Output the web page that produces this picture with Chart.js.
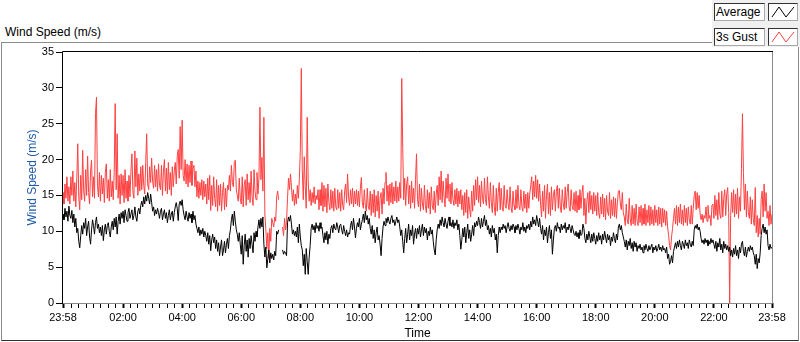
<!DOCTYPE html>
<html>
<head>
<meta charset="utf-8">
<script src="https://cdn.jsdelivr.net/npm/chart.js@4.4.1/dist/chart.umd.min.js"></script>
<style>
  html, body { margin: 0; padding: 0; background: #fff; }
  body { width: 800px; height: 342px; position: relative; overflow: hidden; font-family: "Liberation Sans", Arial, sans-serif; }
  #frame { position: absolute; left: 1px; top: 42px; width: 796px; height: 297px; border: 1px solid #8c8c8c; border-bottom-color: #333; }
  #title { position: absolute; left: 5px; top: 25px; font-size: 12px; color: #000; }
  #legend { position: absolute; left: 712px; top: 0; width: 88px; height: 47px; background: #f0f0f0; }
  .lbl, .ico { position: absolute; height: 16px; background: #fff; border: 1px solid #333; border-right-color: #aaa; border-bottom-color: #aaa; }
  .lbl { left: 2px; width: 48px; font-size: 12px; line-height: 16px; padding-left: 1px; box-sizing: content-box; }
  .ico { left: 56px; width: 28px; }
  canvas { position: absolute; left: 0; top: 0; }
</style>
</head>
<body>
<div id="frame"></div>
<div id="title">Wind Speed (m/s)</div>
<div id="legend">
  <div class="lbl" style="top:3px">Average</div>
  <div class="ico" style="top:3px"><svg width="28" height="16"><polyline points="3,13 10,3 17,13 25,3" fill="none" stroke="#000" stroke-width="1"/></svg></div>
  <div class="lbl" style="top:28px">3s Gust</div>
  <div class="ico" style="top:28px"><svg width="28" height="16"><polyline points="3,13 10,3 17,13 25,3" fill="none" stroke="#ff4040" stroke-width="1"/></svg></div>
</div>
<canvas id="chart" width="800" height="342"></canvas>
<script>
// one sample every 2 minutes, starting 23:58
const stepMinutes = 2;

const avgSpeed = [
  12.4, 11.6, 13.2, 12.0, 12.8, 11.4, 13.5, 12.2, 11.8, 12.9, 11.2, 12.4, 10.6, 11.8, 9.8, 10.4, 8.6, 7.7, 9.4, 10.8,
  9.6, 11.2, 10.4, 11.8, 9.4, 10.6, 11.4, 9.2, 8.2, 10.2, 11.6, 10.8, 9.6, 11.2, 12.0, 10.4, 11.0, 9.8, 10.6, 9.4,
  10.8, 8.7, 10.2, 11.0, 9.6, 10.8, 11.2, 10.0, 9.2, 10.6, 11.4, 10.2, 11.8, 10.6, 12.0, 9.6, 11.4, 12.4, 11.0, 12.6,
  11.8, 12.8, 11.2, 13.0, 12.2, 11.4, 12.6, 13.2, 11.8, 12.4, 13.0, 11.6, 12.2, 13.4, 12.0, 11.4, 12.8, 13.2, 12.4, 13.6,
  14.2, 13.4, 14.8, 13.8, 15.0, 14.2, 15.4, 14.6, 13.8, 15.2, 14.0, 12.8, 13.4, 12.2, 13.0, 12.4, 13.2, 12.6, 11.8, 12.8,
  13.2, 11.6, 12.4, 13.0, 11.8, 12.6, 11.2, 12.2, 13.0, 11.6, 12.4, 12.8, 11.4, 12.6, 13.4, 14.0, 13.2, 11.5, 13.8, 14.2,
  13.6, 14.4, 13.0, 12.2, 11.6, 12.8, 12.0, 11.4, 12.6, 11.8, 12.4, 11.2, 12.8, 11.6, 12.2, 11.0, 10.4, 9.8, 10.6, 9.4,
  10.2, 9.6, 10.4, 9.2, 10.0, 9.4, 8.6, 9.8, 8.2, 9.4, 7.3, 8.8, 9.6, 8.4, 9.2, 7.6, 8.8, 7.2, 8.4, 6.6,
  7.8, 8.8, 6.6, 7.4, 8.6, 7.0, 8.2, 9.0, 7.6, 9.4, 10.2, 11.6, 12.4, 10.8, 12.8, 11.4, 10.2, 9.6, 8.6, 9.8,
  8.2, 6.8, 9.4, 5.4, 8.0, 9.6, 7.2, 8.8, 6.4, 9.0, 7.6, 9.4, 8.2, 7.0, 9.8, 8.6, 10.0, 9.2, 10.6, 11.6,
  10.4, 11.8, 10.6, 12.0, 8.2, 6.4, 7.8, 4.9, 6.2, 7.4, 5.6, 7.0, 6.2, 6.8, 6.0, 7.2, 6.6, 10.0, 9.6, 10.2,
  null, null, null, 7.4, 6.8, 7.2, 7.0, 6.6, 11.2, 12.0, 11.4, 12.2, 11.0, 9.6, 10.2, 9.4, 10.0, 9.2, 10.6, 8.4,
  11.0, 9.2, 8.0, 7.4, 5.2, 6.8, 4.0, 7.6, 5.8, 4.0, 6.4, 8.0, 10.4, 11.0, 10.2, 10.8, 9.8, 11.2, 10.4, 10.8,
  10.0, 11.2, 10.4, 10.6, 9.4, 8.4, 9.8, 8.8, 10.0, 8.2, 9.6, 9.0, 10.4, 10.8, 9.8, 11.0, 10.4, 10.2, 11.2, 10.6,
  9.8, 10.8, 11.0, 10.2, 9.6, 10.8, 10.0, 9.4, 10.2, 9.2, 9.8, 9.6, 10.8, 11.4, 10.2, 11.8, 10.6, 9.1, 10.4, 11.2,
  10.6, 11.8, 10.2, 11.0, 11.6, 12.4, 11.2, 12.8, 11.6, 12.2, 11.0, 11.8, 10.4, 9.6, 10.8, 9.0, 10.2, 8.4, 9.8, 10.6,
  8.8, 9.4, 8.2, 6.6, 9.0, 10.6, 11.4, 10.8, 11.8, 11.2, 12.0, 11.4, 11.0, 11.8, 12.2, 11.2, 11.6, 10.8, 11.4, 12.0,
  11.2, 11.6, 10.6, 9.4, 10.2, 8.6, 7.0, 9.0, 10.4, 8.4, 9.6, 11.0, 8.8, 10.2, 9.4, 10.8, 8.2, 9.6, 10.4, 9.0,
  10.4, 9.6, 10.8, 9.2, 10.2, 11.0, 9.4, 10.6, 9.8, 10.4, 8.8, 10.0, 9.4, 10.6, 9.6, 10.2, 8.6, 7.4, 6.7, 8.8,
  10.2, 11.0, 10.4, 11.6, 10.8, 12.0, 11.2, 10.6, 11.8, 11.0, 10.4, 11.4, 12.0, 10.8, 11.2, 10.6, 11.6, 10.4, 11.2, 10.8,
  11.6, 10.2, 11.0, 9.4, 7.5, 8.8, 10.4, 9.2, 10.6, 8.4, 9.8, 11.0, 9.0, 10.2, 8.6, 9.6, 10.8, 9.4, 11.2, 10.6,
  11.4, 10.8, 12.0, 11.2, 10.4, 11.8, 10.6, 11.4, 12.2, 10.8, 11.6, 10.2, 10.8, 9.6, 10.4, 9.2, 10.8, 9.8, 10.4, 8.8,
  9.6, 7.0, 9.4, 10.6, 9.8, 10.6, 10.2, 11.0, 10.4, 10.8, 9.8, 10.6, 11.2, 10.4, 10.0, 10.8, 10.2, 11.0, 10.6, 9.8,
  10.8, 10.2, 11.0, 10.4, 9.6, 10.6, 10.2, 11.2, 10.0, 10.6, 9.8, 10.8, 10.4, 11.0, 10.2, 11.4, 10.6, 12.0, 11.0, 11.6,
  10.8, 12.2, 11.4, 10.6, 11.8, 10.4, 9.6, 10.8, 8.8, 10.2, 9.4, 10.6, 8.4, 9.8, 10.8, 9.0, 10.2, 6.8, 8.8, 10.4,
  10.8, 10.0, 11.2, 10.4, 10.6, 9.8, 11.0, 10.2, 10.8, 10.4, 11.2, 9.8, 10.6, 10.2, 11.0, 10.4, 9.8, 10.8, 10.2, 9.6,
  9.4, 10.0, 9.2, 9.8, 9.0, 10.2, 9.4, 9.6, 11.0, 10.4, 9.0, 8.4, 9.6, 8.8, 10.0, 9.2, 8.4, 9.6, 8.6, 9.8,
  9.0, 8.2, 9.4, 8.6, 9.8, 8.8, 9.4, 8.2, 9.6, 8.8, 10.0, 9.2, 8.4, 9.6, 8.8, 9.4, 8.0, 9.2, 8.6, 9.8,
  9.0, 8.4, 9.6, 8.8, 10.6, 11.0, 10.2, 10.8, 9.8, 9.2, 8.6, 7.8, 8.8, 7.4, 8.6, 8.0, 9.0, 7.6, 8.4, 7.2,
  8.6, 7.8, 8.4, 7.2, 8.0, 7.6, 8.2, 7.4, 7.8, 7.0, 8.0, 7.4, 8.2, 7.6, 7.2, 8.0, 7.4, 7.8, 8.2, 7.0,
  7.8, 7.4, 8.0, 7.2, 7.6, 8.2, 7.4, 7.8, 7.2, 8.0, 7.4, 7.6, 7.0, 7.8, 6.2, 6.8, 5.4, 5.8, 6.6, 5.6,
  7.2, 7.8, 8.4, 7.6, 8.6, 7.8, 8.8, 8.0, 7.4, 8.6, 8.2, 7.6, 8.8, 8.0, 8.4, 7.6, 8.8, 8.2, 7.8, 8.6,
  8.0, 10.2, 10.8, 10.4, 11.0, 10.2, 10.6, 10.0, 9.0, 8.4, 8.8, 8.2, 9.0, 8.4, 8.8, 8.0, 8.6, 8.2, 9.0, 8.4,
  8.8, 8.2, 7.6, 8.6, 7.2, 8.4, 7.8, 9.0, 7.4, 8.2, 7.0, 8.6, 7.6, 8.2, 7.4, 8.0, 7.2, 7.8, 6.6, 7.4,
  6.4, 7.6, 6.8, 8.0, 6.6, 7.4, 6.2, 7.8, 7.0, 8.2, 8.6, 7.2, 6.6, 7.8, 6.4, 7.2, 7.8, 7.2, 8.0, 7.4,
  7.8, 7.0, 6.6, 5.4, 6.8, 4.8, 6.2, 5.6, 7.0, 9.4, 10.4, 11.0, 9.8, 10.6, 9.6, 10.2, 8.0, 7.4, 8.2, 7.6,
  7.8
];

const gustSpeed = [
  15.4, 13.8, 16.6, 14.6, 17.6, 14.2, 16.2, 13.8, 17.6, 15.0, 18.4, 14.2, 16.8, 13.4, 17.4, 22.2, 14.8, 13.0, 17.8, 14.4,
  21.3, 15.6, 14.2, 18.6, 15.0, 20.5, 15.4, 13.8, 18.4, 19.9, 14.8, 17.6, 14.6, 26.4, 28.7, 16.4, 14.8, 18.2, 14.2, 17.8,
  15.2, 17.4, 14.0, 18.2, 19.4, 14.6, 17.2, 14.2, 18.6, 14.8, 17.0, 14.4, 18.2, 27.8, 15.8, 23.6, 14.6, 17.8, 13.8, 18.0,
  15.0, 17.8, 14.0, 18.6, 14.6, 17.0, 14.2, 17.8, 14.8, 18.4, 20.8, 15.4, 14.6, 21.2, 16.2, 20.2, 15.0, 18.0, 15.6, 19.0,
  15.8, 19.2, 16.4, 15.2, 19.6, 23.6, 16.6, 15.8, 19.0, 16.8, 20.2, 17.0, 16.0, 19.2, 16.2, 18.6, 15.6, 19.4, 16.4, 15.8,
  19.2, 15.0, 18.4, 20.0, 15.6, 18.8, 15.2, 19.6, 15.8, 18.2, 15.0, 19.0, 16.2, 18.4, 19.6, 16.6, 20.4, 21.4, 17.4, 24.6,
  18.6, 25.5, 17.8, 17.0, 20.0, 16.6, 19.4, 16.2, 19.2, 16.8, 19.8, 16.4, 18.8, 19.2, 16.2, 18.4, 14.8, 17.0, 14.6, 16.8,
  15.0, 17.2, 14.4, 17.0, 14.8, 16.6, 13.8, 17.4, 14.4, 17.8, 12.9, 16.4, 13.6, 17.6, 14.6, 13.4, 17.2, 12.8, 16.4, 13.6,
  16.6, 12.8, 15.4, 16.8, 13.0, 16.0, 13.4, 16.4, 15.8, 17.8, 15.6, 19.2, 16.8, 16.2, 19.6, 19.9, 15.8, 15.0, 14.2, 17.4,
  14.6, 13.8, 17.6, 13.4, 16.4, 17.2, 13.6, 18.0, 14.4, 16.8, 14.0, 18.4, 14.8, 13.6, 18.6, 15.6, 14.4, 18.2, 15.2, 17.4,
  27.3, 17.2, 20.3, 15.6, 25.9, 12.4, 10.2, 7.6, 9.8, 6.2, 10.4, 8.6, 11.8, 11.2, 10.6, 12.0, 11.4, 14.8, 15.6, 14.4,
  null, null, null, 10.6, 9.4, 11.8, 10.2, 11.4, 14.6, 17.4, 15.8, 18.0, 16.2, 14.2, 15.8, 13.6, 15.2, 13.8, 16.4, 14.6,
  17.2, 21.3, 32.7, 18.6, 14.4, 20.4, 16.2, 13.2, 25.9, 17.0, 14.2, 15.8, 13.6, 15.4, 14.0, 16.2, 13.8, 15.0, 14.4, 15.8,
  13.0, 15.8, 13.6, 16.8, 12.8, 16.4, 13.4, 16.0, 12.6, 16.6, 14.0, 13.0, 15.8, 13.2, 15.6, 12.8, 16.0, 13.4, 13.0, 15.8,
  13.2, 15.4, 12.8, 15.8, 13.6, 13.0, 15.6, 16.6, 14.0, 18.0, 14.8, 13.6, 15.8, 13.8, 16.0, 13.4, 15.6, 13.8, 15.8, 13.6,
  15.6, 13.4, 16.0, 17.5, 14.0, 13.2, 15.8, 13.6, 12.8, 16.0, 13.4, 13.0, 15.6, 12.2, 15.2, 12.6, 15.8, 12.0, 15.0, 12.8,
  15.6, 11.8, 14.6, 15.4, 12.4, 16.0, 13.8, 16.8, 18.2, 14.2, 16.4, 13.6, 16.6, 14.0, 16.8, 13.8, 16.2, 14.2, 17.0, 14.0,
  16.2, 14.2, 16.8, 14.6, 31.3, 21.7, 14.4, 17.4, 13.6, 16.6, 17.6, 13.8, 16.4, 13.2, 17.0, 14.0, 16.0, 13.2, 17.2, 20.8,
  14.4, 13.4, 16.6, 12.8, 16.0, 13.8, 13.0, 16.4, 13.6, 12.6, 15.8, 13.2, 15.4, 12.4, 16.2, 13.6, 13.0, 15.6, 12.6, 15.2,
  16.4, 13.6, 17.6, 14.4, 18.4, 14.0, 17.0, 14.8, 13.4, 17.4, 14.6, 18.0, 14.2, 16.6, 13.8, 16.8, 14.4, 13.6, 15.8, 13.8,
  16.0, 13.4, 15.6, 13.8, 15.8, 13.0, 15.0, 12.2, 15.4, 12.6, 15.8, 11.8, 14.8, 13.0, 12.0, 15.6, 12.8, 16.4, 13.6, 17.2,
  14.4, 17.6, 14.0, 16.4, 13.4, 17.0, 14.6, 13.8, 17.4, 14.4, 13.6, 17.6, 14.8, 13.2, 16.8, 14.0, 12.6, 16.4, 13.4, 12.2,
  16.0, 12.8, 15.4, 16.8, 13.0, 16.0, 13.4, 12.8, 16.4, 13.6, 13.2, 15.8, 13.8, 13.0, 16.2, 13.4, 12.6, 15.6, 13.6, 13.0,
  15.8, 13.2, 16.4, 13.6, 13.0, 15.8, 13.4, 12.8, 15.6, 13.2, 15.2, 12.6, 15.4, 13.2, 15.2, 16.4, 17.6, 14.4, 17.0, 14.8,
  17.8, 14.6, 17.2, 14.2, 16.6, 13.8, 12.0, 15.6, 12.8, 16.4, 11.8, 15.0, 16.6, 12.4, 15.4, 12.2, 16.2, 13.0, 15.0, 15.8,
  12.8, 15.6, 16.4, 13.2, 16.0, 13.4, 12.6, 15.8, 13.8, 13.0, 16.2, 13.2, 15.4, 16.6, 13.4, 12.8, 15.8, 13.6, 13.0, 15.4,
  12.8, 15.6, 12.6, 15.0, 13.0, 15.8, 13.2, 15.2, 16.4, 12.2, 14.6, 11.0, 14.2, 15.4, 12.6, 15.6, 13.0, 15.0, 12.4, 15.4,
  12.8, 15.0, 12.2, 15.4, 12.6, 11.8, 14.8, 12.4, 15.2, 12.0, 14.6, 11.6, 15.0, 12.8, 12.2, 15.4, 11.8, 14.4, 12.2, 14.8,
  12.0, 14.6, 11.8, 14.0, 15.6, 15.7, 13.8, 13.0, 15.4, 12.6, 12.0, 10.8, 13.8, 11.6, 11.0, 14.6, 11.8, 10.8, 13.6, 11.0,
  13.2, 10.8, 13.8, 11.4, 10.8, 13.4, 11.2, 13.6, 10.8, 13.2, 11.0, 13.8, 10.8, 13.0, 11.2, 13.6, 10.8, 13.4, 11.0, 13.0,
  10.8, 13.6, 11.2, 13.0, 10.8, 13.4, 11.0, 13.2, 10.6, 13.2, 11.2, 13.0, 10.8, 12.8, 10.6, 9.4, 8.0, 7.4, 9.2, 10.4,
  11.8, 13.2, 11.0, 13.6, 10.8, 13.4, 11.2, 13.8, 11.0, 13.0, 10.8, 13.6, 11.2, 13.2, 10.8, 13.4, 11.6, 11.0, 13.6, 11.0,
  13.2, 15.0, 15.6, 13.0, 15.4, 13.2, 15.0, 12.4, 11.6, 12.4, 11.2, 12.2, 11.8, 13.4, 11.4, 13.6, 11.8, 12.2, 10.8, 13.6,
  13.8, 11.8, 15.0, 12.2, 14.4, 11.6, 15.4, 12.4, 11.8, 15.6, 12.0, 14.6, 15.8, 12.2, 15.2, 16.1, 12.6, 0, 12.2, 15.4,
  12.6, 15.8, 12.0, 15.2, 12.4, 16.0, 11.8, 14.8, 12.8, 18.8, 26.4, 18.2, 13.0, 16.6, 12.0, 15.6, 12.6, 11.8, 14.8, 11.0,
  14.4, 11.6, 10.8, 16.1, 9.8, 12.2, 9.2, 11.8, 9.6, 14.4, 15.6, 12.0, 16.6, 12.8, 15.4, 11.8, 12.8, 10.8, 13.6, 11.0,
  12.4
];

// labelled ticks (minutes after 23:58) and their text
const tickTimes = [0, 122, 242, 362, 482, 602, 722, 842, 962, 1082, 1202, 1322, 1440];
const tickLabels = ['23:58', '02:00', '04:00', '06:00', '08:00', '10:00', '12:00',
                    '14:00', '16:00', '18:00', '20:00', '22:00', '23:58'];
const minorStep = 15;

const toPoints = arr => arr.map((v, i) => ({ x: i * stepMinutes, y: v }));

const plotFrame = {
  id: 'plotFrame',
  afterDatasetsDraw(chart) {
    const { ctx, chartArea: a } = chart;
    ctx.save();
    ctx.lineWidth = 1;
    ctx.strokeStyle = '#8a8a8a';
    ctx.beginPath();
    ctx.moveTo(a.left, a.bottom + 0.5);
    ctx.lineTo(a.right + 0.5, a.bottom + 0.5);
    ctx.lineTo(a.right + 0.5, a.top - 1);
    ctx.stroke();
    ctx.strokeStyle = '#000';
    ctx.beginPath();
    ctx.moveTo(a.left - 0.5, a.bottom + 1);
    ctx.lineTo(a.left - 0.5, a.top - 0.5);
    ctx.lineTo(a.right + 1, a.top - 0.5);
    ctx.stroke();
    ctx.restore();
  }
};

Chart.defaults.font.family = '"Liberation Sans", Arial, sans-serif';

new Chart(document.getElementById('chart'), {
  type: 'line',
  data: {
    datasets: [
      { label: 'Average', data: toPoints(avgSpeed), borderColor: '#000', borderWidth: 1,
        pointRadius: 0, tension: 0, spanGaps: false },
      { label: '3s Gust', data: toPoints(gustSpeed), borderColor: '#ff4040', borderWidth: 1,
        pointRadius: 0, tension: 0, spanGaps: false }
    ]
  },
  options: {
    responsive: false,
    animation: false,
    devicePixelRatio: 1,
    layout: { padding: { left: 1, top: 52, right: 28, bottom: 0 } },
    plugins: { legend: { display: false }, tooltip: { enabled: false } },
    scales: {
      x: {
        type: 'linear',
        min: 0,
        max: 1440,
        afterBuildTicks: scale => {
          const vals = tickTimes.slice();
          for (let t = 2 + minorStep; t < 1440; t += minorStep) {
            if (!vals.includes(t)) vals.push(t);
          }
          vals.sort((a, b) => a - b);
          scale.ticks = vals.map(v => ({ value: v }));
        },
        afterFit: scale => { scale.height = 39; },
        border: { display: false },
        grid: {
          drawOnChartArea: false,
          tickLength: 5,
          color: '#000',
          tickWidth: c => (c.tick && tickTimes.includes(c.tick.value) ? 2 : 1)
        },
        ticks: {
          autoSkip: false,
          maxRotation: 0,
          minRotation: 0,
          padding: 3,
          color: '#000',
          font: { size: 11 },
          callback: v => {
            const k = tickTimes.indexOf(v);
            return k >= 0 ? tickLabels[k] : '';
          }
        },
        title: { display: true, text: 'Time', color: '#000', font: { size: 12 }, padding: { top: 0, bottom: 1 } }
      },
      y: {
        min: 0,
        max: 35,
        afterFit: scale => { scale.width = 62; },
        border: { display: false },
        grid: { drawOnChartArea: false, tickLength: 7, color: '#000' },
        ticks: { stepSize: 5, padding: 2, color: '#000', font: { size: 11 } },
        title: { display: true, text: 'Wind Speed (m/s)', color: '#1f5aa8', font: { size: 12 }, padding: { top: 24, bottom: 0 } }
      }
    }
  },
  plugins: [plotFrame]
});
</script>
</body>
</html>
